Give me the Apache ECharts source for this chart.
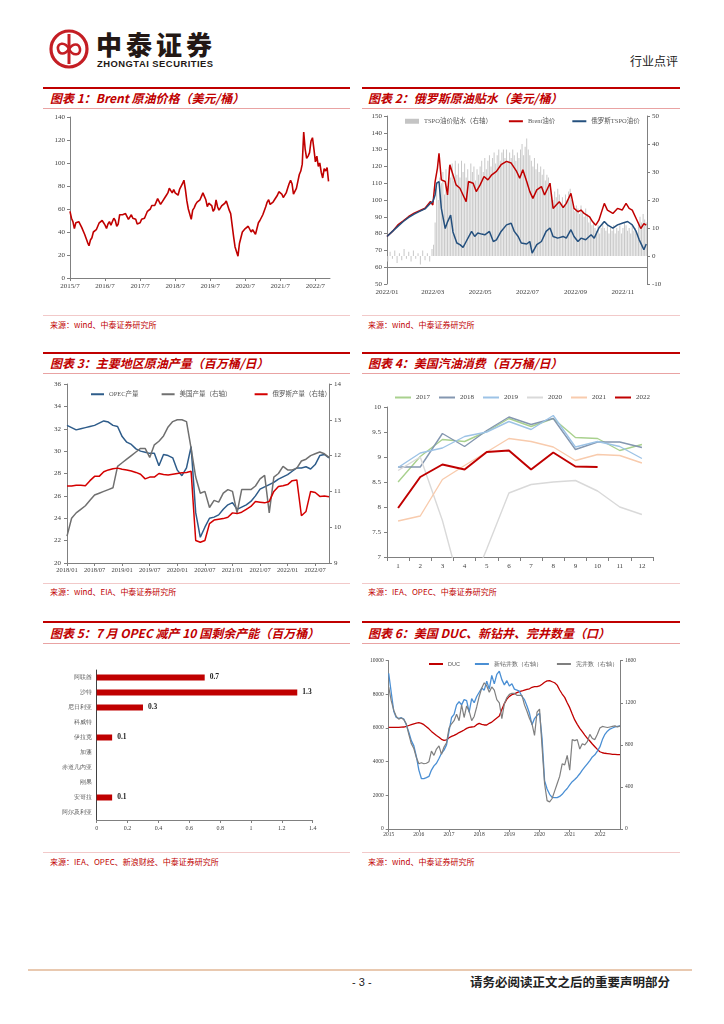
<!DOCTYPE html>
<html><head><meta charset="utf-8">
<script src="https://cdn.jsdelivr.net/npm/echarts@6/dist/echarts.min.js"></script>
<style>
body{margin:0;width:724px;height:1024px;background:#fff;position:relative;overflow:hidden;font-family:"Noto Sans CJK SC",sans-serif;}
.tline{position:absolute;height:2px;background:#c00000;}
.bline{position:absolute;height:1px;background:#e9a3a3;}
.fline{position:absolute;height:1px;background:#f2c9c9;}
.title{position:absolute;color:#c00000;font-size:12px;font-weight:bold;font-style:italic;white-space:nowrap;line-height:14px;}
.src{position:absolute;color:#c00000;font-size:8px;white-space:nowrap;line-height:10px;}
.chart{position:absolute;}
</style></head><body>
<svg style="position:absolute;left:48px;top:28px" width="44" height="44" viewBox="0 0 44 44">
<circle cx="21" cy="21" r="18" fill="none" stroke="#c41e24" stroke-width="3.2"/>
<line x1="21" y1="6" x2="21" y2="36" stroke="#c41e24" stroke-width="3"/>
<path d="M21 21 C 17 13, 9 15, 10 21 C 11 27, 17 27, 21 21 C 25 15, 31 15, 32 21 C 33 27, 25 29, 21 21" fill="none" stroke="#c41e24" stroke-width="2.6"/>
</svg>
<div style="position:absolute;left:96px;top:29px;font-size:26px;font-weight:900;color:#231815;letter-spacing:4px;line-height:30px;white-space:nowrap">中泰证券</div>
<div style="position:absolute;left:97px;top:59px;font-size:9.4px;font-weight:bold;color:#231815;line-height:10px;white-space:nowrap;font-family:'Liberation Sans',sans-serif;letter-spacing:0.5px">ZHONGTAI SECURITIES</div>
<div style="position:absolute;left:630px;top:53px;font-size:12px;color:#222;line-height:16px;white-space:nowrap">行业点评</div>

<div class="tline" style="left:43px;top:87px;width:307px"></div>
<div class="tline" style="left:362px;top:87px;width:318px"></div>
<div class="title" style="left:50px;top:91px">图表 1：Brent 原油价格（美元/桶）</div>
<div class="title" style="left:368px;top:91px">图表 2：俄罗斯原油贴水（美元/桶）</div>
<div class="bline" style="left:43px;top:108px;width:307px"></div>
<div class="bline" style="left:362px;top:108px;width:318px"></div>
<div class="fline" style="left:43px;top:315px;width:307px"></div>
<div class="fline" style="left:362px;top:315px;width:318px"></div>
<div class="src" style="left:50px;top:320px">来源：wind、中泰证券研究所</div>
<div class="src" style="left:368px;top:320px">来源：wind、中泰证券研究所</div>

<div class="tline" style="left:43px;top:352px;width:307px"></div>
<div class="tline" style="left:362px;top:352px;width:318px"></div>
<div class="title" style="left:50px;top:356px">图表 3：主要地区原油产量（百万桶/日）</div>
<div class="title" style="left:368px;top:356px">图表 4：美国汽油消费（百万桶/日）</div>
<div class="bline" style="left:43px;top:373px;width:307px"></div>
<div class="bline" style="left:362px;top:373px;width:318px"></div>
<div class="fline" style="left:43px;top:583px;width:307px"></div>
<div class="fline" style="left:362px;top:583px;width:318px"></div>
<div class="src" style="left:50px;top:587px">来源：wind、EIA、中泰证券研究所</div>
<div class="src" style="left:368px;top:587px">来源：IEA、OPEC、中泰证券研究所</div>

<div class="tline" style="left:43px;top:621px;width:307px"></div>
<div class="tline" style="left:362px;top:621px;width:318px"></div>
<div class="title" style="left:50px;top:626px">图表 5：7 月 OPEC 减产 10 国剩余产能（百万桶）</div>
<div class="title" style="left:368px;top:626px">图表 6：美国 DUC、新钻井、完井数量（口）</div>
<div class="bline" style="left:43px;top:643px;width:307px"></div>
<div class="bline" style="left:362px;top:643px;width:318px"></div>
<div class="fline" style="left:43px;top:852px;width:307px"></div>
<div class="fline" style="left:362px;top:852px;width:318px"></div>
<div class="src" style="left:50px;top:857px">来源：IEA、OPEC、新浪财经、中泰证券研究所</div>
<div class="src" style="left:368px;top:857px">来源：wind、中泰证券研究所</div>

<div style="position:absolute;left:28px;top:969px;width:664px;height:2px;background:#e9c9b0"></div>
<div style="position:absolute;left:352px;top:975px;font-size:11px;color:#222;line-height:14px;font-family:'Liberation Sans',sans-serif">- 3 -</div>
<div style="position:absolute;left:470px;top:974px;font-size:12.5px;font-weight:bold;color:#222;line-height:16px;white-space:nowrap">请务必阅读正文之后的重要声明部分</div>

<div id="c1" class="chart" style="left:43px;top:110px;width:310px;height:205px"></div>
<div id="c2" class="chart" style="left:360px;top:110px;width:324px;height:205px"></div>
<div id="c3" class="chart" style="left:43px;top:375px;width:310px;height:208px"></div>
<div id="c4" class="chart" style="left:360px;top:375px;width:324px;height:208px"></div>
<div id="c5" class="chart" style="left:43px;top:645px;width:310px;height:207px"></div>
<div id="c6" class="chart" style="left:360px;top:645px;width:324px;height:207px"></div>

<script>
// ---------- Chart 1: Brent (semi-monthly, from 2015/7) ----------
const brentPrices = [
58,52, 49,43, 48,47, 49,48, 44,45, 38,37,
31,28, 33,35, 40,40, 42,45, 48,49, 50,48, 46,43, 47,49, 46,47, 52,50, 45,47, 55,56,
55,55, 56,56, 51,52, 55,52, 52,51, 47,46, 48,51, 51,52, 55,58, 57,60, 63,63, 63,66,
69,70, 64,66, 65,70, 72,74, 78,76, 74,77, 74,73, 72,77, 78,82, 85,77, 67,60, 60,51,
59,61, 64,66, 67,68, 71,74, 71,68, 62,65, 65,63, 58,60, 68,62, 59,61, 63,63, 65,67,
66,59, 56,55, 36,27, 28,19, 30,35, 40,41, 43,43, 45,45, 40,42, 42,38, 43,48, 50,51,
55,56, 62,66, 68,64, 63,66, 68,69, 72,75, 75,73, 70,71, 74,78, 82,85, 82,73, 74,78,
84,90, 93,99, 127,112, 104,106, 109,119, 122,112, 101,106, 97,100, 92,87, 95,93, 96,84
];
const brentYearLabels = ['2015/7','2016/7','2017/7','2018/7','2019/7','2020/7','2021/7','2022/7'];

// ---------- Chart 2: Russian discount ----------
const brent2 = [[0,78.3],[7,81.3],[14,85.2],[21,87.6],[28,90.2],[35,92.2],[42,93.6],[49,95.1],[56,99.1],[59,97],[62,111],[65,119],[67,127.8],[70,112],[75,111],[78,103],[81,121],[85,115],[89,109],[94,107],[98,103],[102,99],[105,111],[111,110],[115,105],[120,109],[125,114],[130,112],[135,115],[141,117],[147,121],[154,123],[160,122],[167,117],[171,113],[175,118],[180,111],[184,105],[188,101],[193,106],[199,108],[203,103],[210,110],[214,95],[218,97],[222,99],[227,95.5],[231,98],[237,104],[241,95],[246,93],[250,94],[254,92],[261,90],[265,87],[269,85],[273,88],[280,98],[284,94],[291,92],[297,95],[303,94],[308,98],[312,95],[316,94],[321,89],[327,83],[331,86],[334,85]];
const urals2 = [[0,78.3],[7,81.3],[14,84.3],[21,87.2],[28,89.6],[35,91.6],[42,93.2],[49,94.7],[56,98.1],[59,99],[62,103],[64,110],[67,111],[70,95],[75,83],[78,87],[82,91],[85,81],[90,74.4],[94,73.4],[98,71.8],[102,75.3],[109,81.3],[113,78.3],[117,80.3],[122,79.7],[126,79.3],[132,81.3],[137,75.3],[141,76.3],[147,81.3],[154,85.2],[160,86.2],[164,81.3],[169,78.3],[173,74.4],[180,73.8],[184,75.3],[187,68.4],[193,73.4],[199,75.3],[205,81.3],[210,83.3],[214,78.3],[220,77.3],[227,78.3],[231,77.3],[237,82.3],[241,78.3],[246,75.3],[250,77.3],[256,76.3],[263,79.3],[267,77.3],[273,83.3],[280,87.2],[284,85.2],[291,83.3],[297,85.2],[303,86.2],[310,87.2],[316,85.2],[321,81.3],[325,76.3],[329,72.4],[331,70.4],[334,73.8]];
const discount2 = [[1,-2],[4,1.5],[7,-1],[10,2],[13,-2.5],[16,1],[19,-1.5],[22,2.5],[25,-1],[28,1.5],[31,-2],[34,2],[37,-1],[40,1],[43,-3],[46,2],[49,-1.5],[52,1],[55,-2],[58,2.5],
[60,4],[62,12],[64,25],[66,20],[68,28],[70,26],[72,30],[74,22],[76,31],[78,25],[80,32],[82,28],[84,33],[86,27],[88,34],[90,29],
[92,33],[94,28],[96,34],[98,30],[100,33],[102,28],[104,31],[106,26],[108,33],[110,30],[112,32],[114,27],[116,31],[118,29],
[120,32],[122,34],[124,30],[126,35],[128,31],[130,34],[132,36],[134,32],[136,35],[138,37],[140,33],[142,36],[144,38],[146,34],[148,37],[150,38],
[152,35],[154,38],[156,34],[158,37],[160,35],[162,38],[164,36],[166,34],[168,37],[170,35],[172,38],[174,40],[176,36],[178,39],[180,42],[182,38],
[184,36],[186,34],[188,32],[190,35],[192,31],[194,33],[196,30],[198,32],[200,29],[202,31],[204,27],[206,29],[208,28],[210,26],[212,22],
[214,20],[216,23],[218,21],[220,24],[222,22],[224,19],[226,21],[228,18],[230,22],[232,20],[234,23],[236,24],[238,20],[240,18],[242,16],
[244,18],[246,17],[248,15],[250,18],[252,16],[254,14],[256,17],[258,15],[260,12],[262,14],[264,11],[266,12],[268,10],[270,9],[272,11],[274,8],[276,10],[278,12],[280,10],[282,9],[284,11],
[286,8],[288,10],[290,9],[292,11],[294,8],[296,10],[298,9],[300,11],[302,8],[304,10],[306,12],[308,11],[310,9],[312,10],[314,8],[316,11],[318,9],[320,10],[322,8],[324,12],[326,14],[328,12],[330,15],[332,13],[334,12]];
const monthTickDays = [0,59,120,181,243,304];
const monthTickLabels = ['2022/01','2022/03','2022/05','2022/07','2022/09','2022/11'];

// ---------- Chart 3: production (monthly 2018/01 - 2022/10) ----------
const opecProd = [32.3,32.1,31.9,32.0,32.1,32.2,32.3,32.5,32.7,32.6,32.3,32.2,
31.3,30.8,30.6,30.2,30.0,29.9,29.8,29.8,28.7,29.7,29.6,29.4,
28.3,27.8,28.5,30.4,24.5,22.3,23.2,24.0,24.1,24.3,24.8,25.2,
25.4,24.8,25.0,25.2,25.5,26.0,26.6,26.8,27.0,27.2,27.5,27.7,
27.9,28.2,28.5,28.5,28.6,28.4,28.8,29.6,29.7,29.4];
const usProd = [9.75,10.25,10.4,10.5,10.6,10.75,10.9,10.95,11.0,11.05,11.1,11.7,
11.8,11.9,12.0,12.1,12.2,12.2,11.95,12.3,12.4,12.55,12.8,12.95,
13.0,13.0,12.95,12.2,11.4,10.95,11.0,10.55,10.75,10.7,10.95,11.05,
11.0,10.4,11.05,11.05,11.05,11.15,11.35,11.45,10.4,11.4,11.5,11.7,
11.6,11.6,11.65,11.85,11.9,12.0,12.05,12.1,12.05,11.95];
const ruProd = [11.15,11.15,11.17,11.17,11.16,11.3,11.42,11.42,11.55,11.6,11.63,11.65,
11.62,11.6,11.57,11.53,11.48,11.35,11.4,11.4,11.5,11.47,11.46,11.48,
11.5,11.52,11.53,11.56,9.63,9.58,9.63,10.1,10.2,10.22,10.24,10.28,
10.4,10.38,10.42,10.5,10.58,10.72,10.7,10.68,10.72,11.0,11.14,11.16,
11.19,11.3,11.32,10.32,10.44,11.0,10.97,10.86,10.87,10.85];

// ---------- Chart 4: US gasoline ----------
const gasMonths = ['1','2','3','4','5','6','7','8','9','10','11','12'];
const gas2017 = [8.5,9.01,9.35,9.31,9.51,9.77,9.61,9.77,9.39,9.37,9.13,9.25];
const gas2018 = [8.8,8.8,9.47,9.21,9.53,9.8,9.65,9.77,9.15,9.3,9.3,9.19];
const gas2019 = [8.79,9.08,9.18,9.41,9.5,9.71,9.55,9.83,9.2,9.31,9.21,8.97];
const gas2020 = [8.73,9.0,7.73,6.08,7.16,8.28,8.45,8.5,8.53,8.32,8.0,7.85];
const gas2021 = [7.72,7.82,8.55,8.83,9.1,9.37,9.31,9.2,8.93,9.05,9.03,8.88];
const gas2022 = [7.98,8.6,8.85,8.75,9.1,9.13,8.75,9.09,8.81,8.8];

// ---------- Chart 5: spare capacity ----------
const spareCountries = ['阿联酋','沙特','尼日利亚','科威特','伊拉克','加蓬','赤道几内亚','刚果','安哥拉','阿尔及利亚'];
const spareValues = [0.7,1.3,0.3,0,0.1,0,0,0,0.1,0];

// ---------- Chart 6: DUC / drilled / completed (monthly 2015/01 - 2022/09) ----------
const ducCount = [6040,6040,6040,6040,6040,6050,6060,6100,6150,6200,6250,6290,
6320,6280,6200,6080,5950,5800,5680,5560,5450,5330,5270,5290,
5420,5500,5560,5640,5730,5800,5880,5980,6040,6060,6080,6200,
6280,6220,6180,6180,6280,6350,6480,6600,6710,7100,7450,7720,
7880,7980,8030,8100,8160,8200,8250,8300,8330,8420,8460,8460,
8500,8600,8720,8800,8810,8750,8690,8550,8260,8020,7820,7500,
7210,6830,6480,6220,5980,5780,5580,5390,5230,5050,4890,4730,
4590,4530,4500,4480,4460,4440,4430,4420,4420];
const drilledWells = [1480,1300,1120,1060,1052,1058,1045,990,920,840,790,690,
560,480,478,488,500,560,600,625,670,720,750,800,
930,1060,1090,1180,1210,1180,1230,1220,1110,1240,1200,1260,
1300,1340,1320,1405,1330,1460,1380,1470,1500,1420,1370,1410,
1360,1380,1330,1320,1310,1260,1230,1170,1100,990,1050,1080,
1100,860,460,380,330,300,298,298,310,330,360,385,
420,450,470,495,525,560,590,620,650,685,705,740,
780,850,900,930,950,960,970,975,980];
const completedWells = [1350,1220,1130,1070,1045,1055,1040,1000,900,810,765,680,
620,630,620,625,640,740,700,760,790,710,780,820,
960,1000,1030,1090,1030,1180,1060,1170,1120,1030,1070,1160,
1260,1340,1390,1360,1300,1350,1320,1230,1200,1050,1190,1250,
1280,1290,1290,1270,1270,1270,1180,1120,1050,1000,890,1110,
1140,780,430,270,258,290,360,430,500,620,610,700,
560,850,840,850,760,810,800,830,900,860,850,900,
960,975,970,965,970,975,980,970,980];

const SERIF = '"Liberation Serif","Noto Sans CJK SC",serif';
const AX = '#808080', LB = '#404040';
const HIDE_SYM = {opacity:0};
function baseAxis(extra){ return Object.assign({
  axisLine:{show:true,lineStyle:{color:AX,width:1}},
  axisTick:{show:true,inside:false,length:3,lineStyle:{color:AX}},
  splitLine:{show:false},
  axisLabel:{fontFamily:SERIF,fontSize:7,color:LB}
}, extra||{}); }
function monthCats(y0,n){ const a=[]; for(let i=0;i<n;i++){ const y=y0+Math.floor(i/12), m=i%12+1; a.push(y+'/'+(m<10?'0'+m:m)); } return a; }

// Chart 1
(function(){
  const ch = echarts.init(document.getElementById('c1'));
  const data = brentPrices.map((v,i)=>[i*0.5, v]);
  const tickPos = brentYearLabels.map((s,i)=>i*12);
  ch.setOption({animation:false,
    grid:{left:27,top:7,width:260,height:161},
    xAxis:baseAxis({type:'value',min:0,max:89,
      axisTick:{show:true,length:3,lineStyle:{color:AX},customValues:tickPos},
      axisLabel:{fontFamily:SERIF,fontSize:7,color:LB,margin:5,customValues:tickPos,formatter:v=>brentYearLabels[Math.round(v/12)]}}),
    yAxis:baseAxis({type:'value',min:0,max:140,interval:20,axisLabel:{fontFamily:SERIF,fontSize:7,color:LB,margin:5}}),
    series:[{type:'line',data:data,symbol:'none',lineStyle:{color:'#c00000',width:1.6},itemStyle:{color:'#c00000'}}]
  });
})();

// Chart 2
(function(){
  const ch = echarts.init(document.getElementById('c2'));
  ch.setOption({animation:false,
    grid:{left:27,top:6,width:260,height:168},
    legend:{top:3,left:40,itemGap:16,itemWidth:14,itemHeight:5,itemStyle:HIDE_SYM,textStyle:{fontSize:6.5,color:'#595959',fontFamily:SERIF},
      data:[{name:'TSPO油价贴水（右轴）',icon:'rect',itemStyle:{opacity:1,color:'#c4c4c4'}},{name:'Brent油价'},{name:'俄罗斯TSPO油价'}]},
    xAxis:baseAxis({type:'value',min:0,max:335,
      axisLine:{show:false},
      axisTick:{show:false},
      axisLabel:{fontFamily:SERIF,fontSize:7,color:LB,margin:5,customValues:monthTickDays,formatter:v=>monthTickLabels[monthTickDays.indexOf(v)]}}),
    yAxis:[baseAxis({type:'value',min:50,max:150,interval:10,axisLabel:{fontFamily:SERIF,fontSize:7,color:LB,margin:5}}),
           baseAxis({type:'value',min:-10,max:50,interval:10,position:'right',axisLabel:{fontFamily:SERIF,fontSize:7,color:LB,margin:5}})],
    series:[
      {name:'TSPO油价贴水（右轴）',type:'bar',yAxisIndex:1,data:discount2,barWidth:1,itemStyle:{color:'#c8c8c8'}},
      {name:'Brent油价',type:'line',data:brent2,symbol:'none',lineStyle:{color:'#c00000',width:1.5},itemStyle:{color:'#c00000'},
        markLine:{silent:true,symbol:'none',label:{show:false},lineStyle:{color:AX,type:'solid',width:1},data:[{yAxis:60}]}},
      {name:'俄罗斯TSPO油价',type:'line',data:urals2,symbol:'none',lineStyle:{color:'#24507e',width:1.5},itemStyle:{color:'#24507e'}}
    ]
  });
})();

// Chart 3
(function(){
  const ch = echarts.init(document.getElementById('c3'));
  const cats = monthCats(2018, opecProd.length);
  ch.setOption({animation:false,
    grid:{left:24,top:9,width:262,height:179},
    legend:{top:11,left:42,itemGap:22,itemWidth:13,itemHeight:5,itemStyle:HIDE_SYM,textStyle:{fontSize:6.5,color:'#595959',fontFamily:SERIF},
      data:['OPEC产量','美国产量（右轴）','俄罗斯产量（右轴）']},
    xAxis:baseAxis({type:'category',data:cats,boundaryGap:false,
      axisTick:{show:true,length:3,interval:5,lineStyle:{color:AX}},
      axisLabel:{fontFamily:SERIF,fontSize:6.5,color:LB,margin:4,interval:5}}),
    yAxis:[baseAxis({type:'value',min:20,max:36,interval:2,axisLabel:{fontFamily:SERIF,fontSize:7,color:LB,margin:6}}),
           baseAxis({type:'value',min:9,max:14,interval:1,position:'right',axisLabel:{fontFamily:SERIF,fontSize:7,color:LB,margin:5}})],
    series:[
      {name:'OPEC产量',type:'line',data:opecProd,symbol:'none',lineStyle:{color:'#2e5c8a',width:1.5},itemStyle:{color:'#2e5c8a'}},
      {name:'美国产量（右轴）',type:'line',yAxisIndex:1,data:usProd,symbol:'none',lineStyle:{color:'#707070',width:1.5},itemStyle:{color:'#707070'}},
      {name:'俄罗斯产量（右轴）',type:'line',yAxisIndex:1,data:ruProd,symbol:'none',lineStyle:{color:'#d40000',width:1.5},itemStyle:{color:'#d40000'}}
    ]
  });
})();

// Chart 4
(function(){
  const ch = echarts.init(document.getElementById('c4'));
  const cols = ['#a9d18e','#8497b0','#9dc3e6','#d9d9d9','#f8cbad','#c00000'];
  const years = ['2017','2018','2019','2020','2021','2022'];
  const sets = [gas2017,gas2018,gas2019,gas2020,gas2021,gas2022];
  ch.setOption({animation:false,
    grid:{left:27,top:32,width:266,height:150},
    legend:{top:14,left:29,width:300,itemGap:8,itemWidth:16,itemHeight:5,itemStyle:HIDE_SYM,textStyle:{fontSize:7,color:'#404040',fontFamily:SERIF},data:years},
    xAxis:baseAxis({type:'category',data:gasMonths,boundaryGap:true,
      axisTick:{show:true,length:4,alignWithLabel:false,lineStyle:{color:AX}},
      axisLabel:{fontFamily:SERIF,fontSize:7,color:LB,margin:6}}),
    yAxis:baseAxis({type:'value',min:7,max:10,interval:0.5,axisLabel:{fontFamily:SERIF,fontSize:7,color:LB,margin:6}}),
    series:sets.map((d,i)=>({name:years[i],type:'line',data:d,symbol:'none',
      lineStyle:{color:cols[i],width:i===5?2:1.4},itemStyle:{color:cols[i]},z:i===5?5:2}))
  });
})();

// Chart 5
(function(){
  const ch = echarts.init(document.getElementById('c5'));
  ch.setOption({animation:false,
    grid:{left:53.7,top:25,width:216,height:150},
    xAxis:baseAxis({type:'value',min:0,max:1.4,interval:0.2,
      axisLabel:{fontFamily:SERIF,fontSize:6,color:LB,margin:5}}),
    yAxis:baseAxis({type:'category',data:spareCountries,inverse:true,
      axisLine:{show:true,lineStyle:{color:'#404040'}},
      axisTick:{show:false},
      axisLabel:{fontSize:5.6,color:'#595959',margin:5}}),
    series:[{type:'bar',data:spareValues,barWidth:6,itemStyle:{color:'#c00000'},
      label:{show:true,position:'right',distance:5,fontFamily:SERIF,fontSize:7.5,fontWeight:'bold',color:'#222',
        formatter:p=>p.value>0?String(p.value):''}}]
  });
})();

// Chart 6
(function(){
  const ch = echarts.init(document.getElementById('c6'));
  const cats = monthCats(2015, ducCount.length);
  ch.setOption({animation:false,
    grid:{left:28.7,top:15.7,width:231.3,height:168.3},
    legend:{top:11,left:63,itemGap:14,itemWidth:14,itemHeight:5,itemStyle:HIDE_SYM,textStyle:{fontSize:5.5,color:'#595959'},
      data:['DUC','新钻井数（右轴）','完井数（右轴）']},
    xAxis:baseAxis({type:'category',data:cats,boundaryGap:false,
      axisTick:{show:true,length:3,interval:11,lineStyle:{color:AX}},
      axisLabel:{fontFamily:SERIF,fontSize:5.5,color:LB,margin:3,interval:11,formatter:v=>v.slice(0,4)}}),
    yAxis:[baseAxis({type:'value',min:0,max:10000,interval:2000,axisLabel:{fontFamily:SERIF,fontSize:5.5,color:LB,margin:5,formatter:v=>String(v)}}),
           baseAxis({type:'value',min:0,max:1600,interval:400,position:'right',axisLabel:{fontFamily:SERIF,fontSize:5.5,color:LB,margin:5,formatter:v=>String(v)}})],
    series:[
      {name:'DUC',type:'line',data:ducCount,symbol:'none',lineStyle:{color:'#c00000',width:1.3},itemStyle:{color:'#c00000'}},
      {name:'新钻井数（右轴）',type:'line',yAxisIndex:1,data:drilledWells,symbol:'none',lineStyle:{color:'#4a8fd4',width:1.3},itemStyle:{color:'#4a8fd4'}},
      {name:'完井数（右轴）',type:'line',yAxisIndex:1,data:completedWells,symbol:'none',lineStyle:{color:'#7f7f7f',width:1.2},itemStyle:{color:'#7f7f7f'}}
    ]
  });
})();
</script>
</body></html>
